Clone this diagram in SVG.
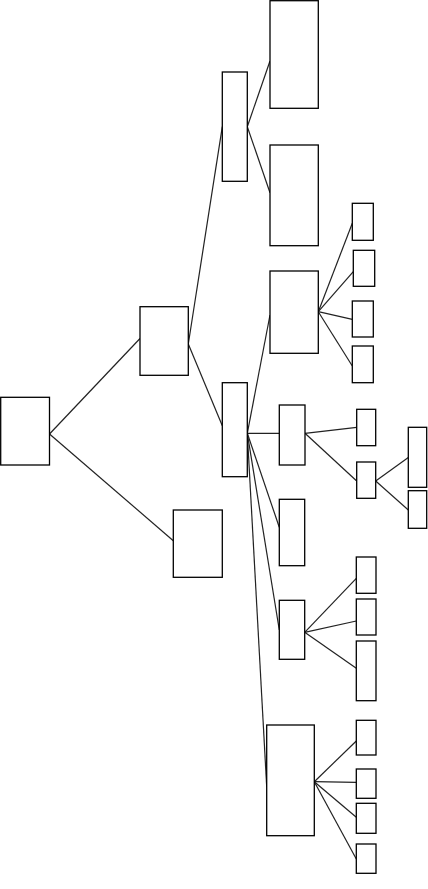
<svg xmlns="http://www.w3.org/2000/svg" width="428" height="889" viewBox="0 0 428 889">
<style>
rect{fill:#fff;stroke:#000;stroke-width:1.3}
#connectors line{stroke:#222;stroke-width:1.2}
</style>
<rect x="0" y="0" width="428" height="889" style="stroke:none"/>
<g id="connectors">
<line x1="49.5" y1="434" x2="140" y2="338.5"/>
<line x1="49.5" y1="434" x2="173.3" y2="540.7"/>
<line x1="188.3" y1="344" x2="222.3" y2="126.7"/>
<line x1="188.3" y1="344" x2="222.3" y2="425.7"/>
<line x1="247.3" y1="126.7" x2="270" y2="61"/>
<line x1="247.3" y1="126.7" x2="270" y2="192.7"/>
<line x1="247.3" y1="433.3" x2="270" y2="315"/>
<line x1="247.3" y1="433.3" x2="279.3" y2="433.3"/>
<line x1="247.3" y1="433.3" x2="279.3" y2="527.3"/>
<line x1="247.3" y1="433.3" x2="279.3" y2="630"/>
<line x1="247.3" y1="433.3" x2="266.7" y2="786.7"/>
<line x1="318.3" y1="311.7" x2="352.3" y2="223.3"/>
<line x1="318.3" y1="311.7" x2="353.3" y2="271.7"/>
<line x1="318.3" y1="311.7" x2="352.3" y2="319.3"/>
<line x1="318.3" y1="311.7" x2="352.3" y2="366"/>
<line x1="305" y1="433.3" x2="356.7" y2="427.3"/>
<line x1="305" y1="433.3" x2="356.7" y2="481"/>
<line x1="375.7" y1="481" x2="408.3" y2="457.5"/>
<line x1="375.7" y1="481" x2="408.3" y2="510"/>
<line x1="304.7" y1="632.3" x2="356.3" y2="578.3"/>
<line x1="304.7" y1="632.3" x2="356.3" y2="621"/>
<line x1="304.7" y1="632.3" x2="356.3" y2="668.3"/>
<line x1="314.3" y1="781.7" x2="356.3" y2="741"/>
<line x1="314.3" y1="781.7" x2="356.3" y2="782.3"/>
<line x1="314.3" y1="781.7" x2="356.3" y2="817.3"/>
<line x1="314.3" y1="781.7" x2="356.3" y2="859"/>
</g>
<g id="root"><rect x="0.7" y="397.3" width="48.8" height="67.7"/></g>
<g id="a"><rect x="140" y="306.7" width="48.3" height="68.6"/></g>
<g id="b"><rect x="173.3" y="510" width="49" height="67.3"/></g>
<g id="c"><rect x="222.3" y="72" width="25" height="109.3"/></g>
<g id="d"><rect x="222.3" y="382.7" width="25" height="94"/></g>
<g id="e"><rect x="270" y="0.7" width="48.3" height="107.6"/></g>
<g id="f"><rect x="270" y="145" width="48.3" height="100.7"/></g>
<g id="g"><rect x="270" y="271" width="48.3" height="82.3"/></g>
<g id="h1"><rect x="352.3" y="203.3" width="21" height="37"/></g>
<g id="h2"><rect x="353.3" y="250.3" width="21.4" height="36"/></g>
<g id="h3"><rect x="352.3" y="301" width="21" height="36"/></g>
<g id="h4"><rect x="352.3" y="346" width="21" height="36.7"/></g>
<g id="i"><rect x="279.3" y="405" width="25.7" height="60"/></g>
<g id="j1"><rect x="356.7" y="409.3" width="19" height="36.4"/></g>
<g id="j2"><rect x="356.7" y="462" width="19" height="36.3"/></g>
<g id="k1"><rect x="408.3" y="427.3" width="18.4" height="60"/></g>
<g id="k2"><rect x="408.3" y="490.7" width="18.4" height="37.6"/></g>
<g id="l"><rect x="279.3" y="499.3" width="25.4" height="66.4"/></g>
<g id="m"><rect x="279.3" y="600.3" width="25.4" height="59"/></g>
<g id="n1"><rect x="356.3" y="557" width="19.7" height="36.3"/></g>
<g id="n2"><rect x="356.3" y="599" width="19.7" height="36"/></g>
<g id="n3"><rect x="356.3" y="641" width="19.7" height="59.7"/></g>
<g id="o"><rect x="266.7" y="725" width="47.6" height="110.7"/></g>
<g id="p1"><rect x="356.3" y="720.3" width="19.7" height="34.7"/></g>
<g id="p2"><rect x="356.3" y="769" width="19.7" height="29.3"/></g>
<g id="p3"><rect x="356.3" y="803.3" width="19.7" height="30"/></g>
<g id="p4"><rect x="356.3" y="844" width="19.7" height="29.3"/></g>
</svg>
